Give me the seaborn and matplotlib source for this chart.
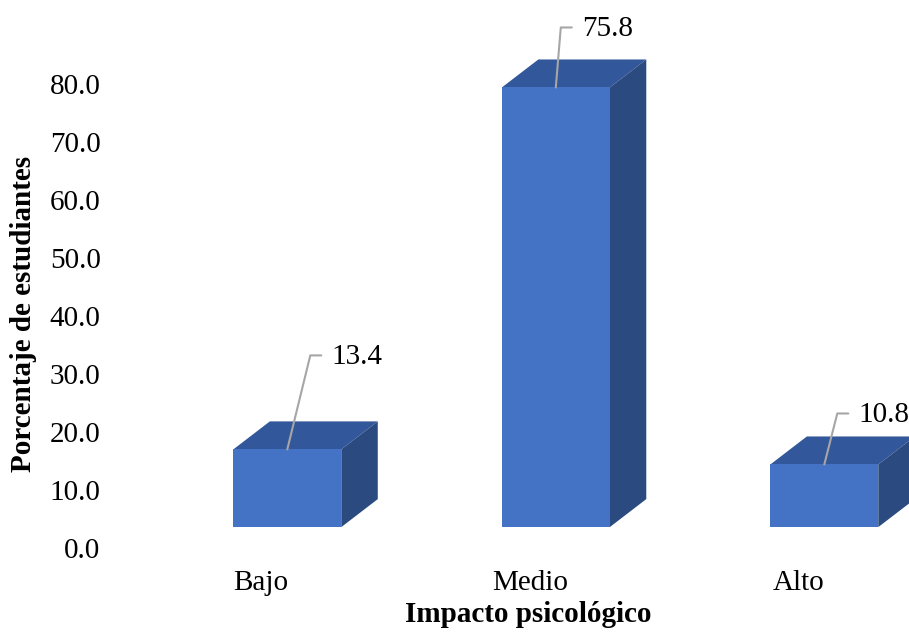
import numpy as np
import pandas as pd
import matplotlib
matplotlib.use("Agg")
import matplotlib.pyplot as plt
from matplotlib.patches import Polygon
import seaborn as sns

# ==============================
# DATA
# ==============================

categories = ["Bajo", "Medio", "Alto"]
values = [13.4, 75.8, 10.8]
y_ticks = [0, 10, 20, 30, 40, 50, 60, 70, 80]

# leader line offsets for data labels (pixels, from top of front face)
label_offsets = [(23, 94), (5, 60), (13, 51)]

FRONT = "#4472C4"
TOP = "#32579A"
SIDE = "#2B4A80"
LEADER = "#A6A6A6"

sns.set_theme(style="white")
plt.rcParams["font.family"] = ["Liberation Serif", "DejaVu Serif"]

df = pd.DataFrame({"cat": categories, "val": values})

fig = plt.figure(figsize=(9.09, 6.39), dpi=100)
ax = fig.add_axes([127 / 909, 91 / 639, 782 / 909, 522 / 639])

bar_w = 0.402
shift = 0.097
base = 3.6
depth_x = 0.136
depth_y = 4.83

sns.barplot(data=df, x="cat", y="val", color=FRONT, width=bar_w,
            saturation=1, ax=ax, zorder=3)

for i, p in enumerate(ax.patches):
    p.set_x(p.get_x() + shift)
    p.set_y(base)
    p.set_linewidth(0)
    x0 = p.get_x()
    x1 = x0 + p.get_width()
    top = base + p.get_height()
    top_face = Polygon([(x0, top), (x1, top), (x1 + depth_x, top + depth_y),
                        (x0 + depth_x, top + depth_y)],
                       closed=True, facecolor=TOP, edgecolor="none", zorder=2)
    side_face = Polygon([(x1, base), (x1 + depth_x, base + depth_y),
                         (x1 + depth_x, top + depth_y), (x1, top)],
                        closed=True, facecolor=SIDE, edgecolor="none", zorder=2)
    ax.add_patch(top_face)
    ax.add_patch(side_face)

ax.set_xlim(-0.5, -0.5 + 782 / 268.5)
ax.set_ylim(0, 90)
ax.set_yticks(y_ticks)
ax.set_yticklabels([f"{t:.1f}" for t in y_ticks])

# data labels with leader lines
inv = ax.transData.inverted()
for i, p in enumerate(ax.patches[:len(values)]):
    xc = p.get_x() + p.get_width() / 2
    top = base + p.get_height()
    px, py = ax.transData.transform((xc, top))
    dx, dy = label_offsets[i]
    pts = [(px, py), (px + dx, py + dy), (px + dx + 11, py + dy)]
    data_pts = inv.transform(pts)
    ax.plot(data_pts[:, 0], data_pts[:, 1], color=LEADER, lw=1.5,
            clip_on=False, zorder=4)
    tx, ty = inv.transform((px + dx + 21, py + dy - 2))
    ax.text(tx, ty, f"{values[i]:.1f}", fontsize=21, ha="left", va="center",
            color="black", clip_on=False, zorder=5)

for s in ax.spines.values():
    s.set_visible(False)
ax.tick_params(axis="both", length=0, labelsize=21, colors="black")
ax.tick_params(axis="y", pad=19)
ax.tick_params(axis="x", pad=16)

ax.set_xlabel("Impacto psicológico", fontsize=21, fontweight="bold",
              color="black")
ax.set_ylabel("Porcentaje de estudiantes", fontsize=21, fontweight="bold",
              color="black")
ax.xaxis.label.set_va("center")
ax.yaxis.label.set_va("center")
ax.xaxis.set_label_coords((528 - 127) / 782, (548 - 614) / 522)
ax.yaxis.set_label_coords((24 - 127) / 782, (548 - 314) / 522)

ax.grid(False)
fig.savefig("out.png", dpi=100)
